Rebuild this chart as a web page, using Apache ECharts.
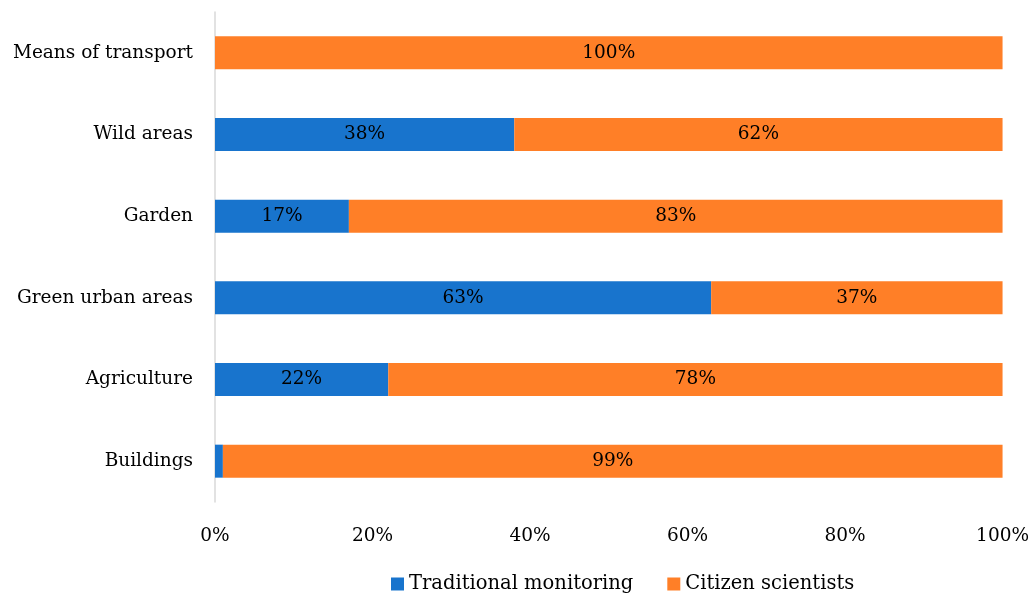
<!DOCTYPE html>
<html><head><meta charset="utf-8">
<script src="https://cdn.jsdelivr.net/npm/echarts@6/dist/echarts.min.js"></script>
<style>html,body{margin:0;padding:0;background:#fff}#c{width:1032px;height:595px}</style>
</head><body><div id="c"></div>
<script>
const categories = ['Buildings', 'Agriculture', 'Green urban areas', 'Garden', 'Wild areas', 'Means of transport'];
const traditional = [1, 22, 63, 17, 38, 0];
const citizen = [99, 78, 37, 83, 62, 100];
const xTicks = [0, 20, 40, 60, 80, 100];

const FONT = 'DejaVu Serif';
const chart = echarts.init(document.getElementById('c'));
const lbl = {
  show: true, position: 'inside', color: '#000', fontFamily: FONT, fontSize: 18.5,
  formatter: p => p.value >= 5 ? p.value + '%' : ''
};
chart.setOption({
  animation: false,
  textStyle: { fontFamily: FONT },
  grid: { left: 215, right: 27, top: 12, bottom: 93, containLabel: false },
  legend: {
    top: 574, left: 391, padding: 0, itemWidth: 13, itemHeight: 13, itemGap: 34, itemTextGap: 7,
    icon: 'rect',
    textStyle: { fontFamily: FONT, fontSize: 19.5, color: '#000' },
    data: ['Traditional monitoring', 'Citizen scientists']
  },
  xAxis: {
    type: 'value', min: xTicks[0], max: xTicks[xTicks.length - 1], interval: 20,
    axisLine: { show: false }, axisTick: { show: false }, splitLine: { show: false },
    axisLabel: { formatter: v => v + '%', color: '#000', fontFamily: FONT, fontSize: 18.5, margin: 25 }
  },
  yAxis: {
    type: 'category', data: categories,
    axisLine: { show: true, lineStyle: { color: '#d9d9d9', width: 1.5 } },
    axisTick: { show: false },
    axisLabel: { color: '#000', fontFamily: FONT, fontSize: 18.5, margin: 22 }
  },
  series: [
    { name: 'Traditional monitoring', type: 'bar', stack: 's', data: traditional, barWidth: 33,
      itemStyle: { color: '#1874cd' }, label: lbl },
    { name: 'Citizen scientists', type: 'bar', stack: 's', data: citizen, barWidth: 33,
      itemStyle: { color: '#ff7f27' }, label: lbl }
  ]
});
</script></body></html>
